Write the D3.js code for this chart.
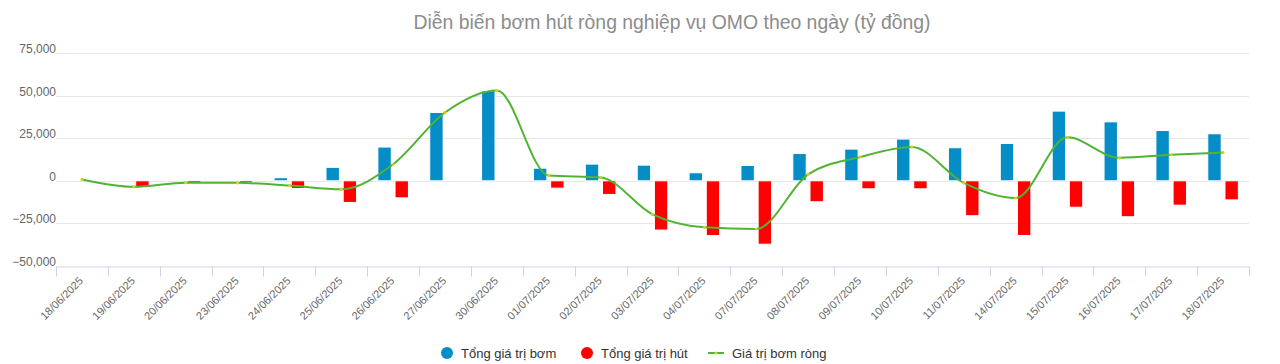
<!DOCTYPE html>
<html>
<head>
<meta charset="utf-8">
<script src="https://cdn.jsdelivr.net/npm/d3@7"></script>
<style>
  html, body { margin: 0; padding: 0; background: #fff; }
  svg { display: block; font-family: "Liberation Sans", Arial, sans-serif; }
</style>
</head>
<body>
<svg id="chart" width="1280" height="364"></svg>
<script>
const categories = ["18/06/2025","19/06/2025","20/06/2025","23/06/2025","24/06/2025","25/06/2025","26/06/2025","27/06/2025","30/06/2025","01/07/2025","02/07/2025","03/07/2025","04/07/2025","07/07/2025","08/07/2025","09/07/2025","10/07/2025","11/07/2025","14/07/2025","15/07/2025","16/07/2025","17/07/2025","18/07/2025"];
const injectValues = [0, 0, 0, 0, 1800, 7900, 19800, 40100, 52800, 7400, 9800, 9200, 4700, 9000, 16000, 18600, 24500, 19400, 21900, 40900, 34600, 29500, 27600];
const absorbValues = [0, -3500, -1000, -1000, -4500, -12700, -10000, 0, 0, -4300, -8000, -28900, -32100, -37200, -12300, -4700, -4700, -20500, -32100, -15500, -21100, -14300, -11200];
const netValues = [800, -3500, -1100, -1200, -2800, -5000, 9700, 40100, 53000, 3100, 2000, -19700, -27300, -28300, 3800, 13900, 19800, -1200, -10100, 25500, 13500, 15300, 16600];
const yTicks = [-50000, -25000, 0, 25000, 50000, 75000];
const seriesNames = ["Tổng giá trị bơm", "Tổng giá trị hút", "Giá trị bơm ròng"];
const colors = ["#058DC7", "#FF0000", "#50B432"];
const titleText = "Diễn biến bơm hút ròng nghiệp vụ OMO theo ngày (tỷ đồng)";

const svg = d3.select("#chart");
const plotLeft = 56, plotRight = 1249, plotTop = 53, plotBottom = 266;

const x = d3.scaleBand().domain(categories).range([plotLeft, plotRight]).paddingInner(0).paddingOuter(0);
const x1 = d3.scaleBand().domain([0, 1]).range([0, x.bandwidth()]).paddingInner(0.22).paddingOuter(0.62);
const y = d3.scaleLinear().domain([-50000, 75000]).range([plotBottom, plotTop]);

// title
svg.append("text").attr("x", 672).attr("y", 29).attr("text-anchor", "middle")
  .attr("font-size", 19.4).attr("fill", "#8c8c8c").text(titleText);

// grid lines
const g = svg.append("g");
g.selectAll("line.grid").data(yTicks.filter(d => d !== -50000)).join("line")
  .attr("x1", plotLeft).attr("x2", plotRight)
  .attr("y1", d => Math.round(y(d)) + 0.5).attr("y2", d => Math.round(y(d)) + 0.5)
  .attr("stroke", "#e6e6e6").attr("stroke-width", 1);

// y labels
g.selectAll("text.ylab").data(yTicks).join("text")
  .attr("x", plotLeft).attr("y", d => y(d))
  .attr("text-anchor", "end").attr("font-size", 12).attr("fill", "#666")
  .text(d => d3.format(",")(d));

// x axis
const xAxis = d3.axisBottom(x).tickSize(0).tickFormat("");
const ax = svg.append("g").attr("transform", `translate(0,${Math.round(plotBottom) + 0.5})`).call(xAxis);
ax.select(".domain").attr("stroke", "#ccd6eb");
const boundaries = categories.map(c => x(c)).concat([plotRight]);
ax.selectAll("line.tk").data(boundaries).join("line")
  .attr("class", "tk")
  .attr("x1", d => Math.round(d) + 0.5).attr("x2", d => Math.round(d) + 0.5)
  .attr("y1", 0).attr("y2", 10).attr("stroke", "#ccd6eb");
ax.selectAll("text.xl").data(categories).join("text")
  .attr("class", "xl")
  .attr("transform", d => `translate(${x(d) + x.bandwidth() / 2 + 2},${15}) rotate(-45)`)
  .attr("text-anchor", "end").attr("font-size", 11).attr("fill", "#666")
  .text(d => d);

// bars
const bars = svg.append("g");
bars.selectAll("rect.inj").data(injectValues.map((v, i) => ({ v, c: categories[i] }))).join("rect")
  .attr("x", d => x(d.c) + x1(0)).attr("width", x1.bandwidth())
  .attr("y", d => y(Math.max(0, d.v))).attr("height", d => Math.abs(y(d.v) - y(0)))
  .attr("fill", colors[0]).attr("stroke", "#fff").attr("stroke-width", 1)
  .style("display", d => d.v === 0 ? "none" : null);
bars.selectAll("rect.abs").data(absorbValues.map((v, i) => ({ v, c: categories[i] }))).join("rect")
  .attr("x", d => x(d.c) + x1(1)).attr("width", x1.bandwidth())
  .attr("y", d => y(Math.max(0, d.v))).attr("height", d => Math.abs(y(d.v) - y(0)))
  .attr("fill", colors[1]).attr("stroke", "#fff").attr("stroke-width", 1)
  .style("display", d => d.v === 0 ? "none" : null);

// line
const pts = netValues.map((v, i) => [x(categories[i]) + x.bandwidth() / 2, y(v)]);
const line = d3.line().curve(d3.curveMonotoneX);
svg.append("path").attr("d", line(pts)).attr("fill", "none")
  .attr("stroke", colors[2]).attr("stroke-width", 2);
svg.append("g").selectAll("circle").data(pts).join("circle")
  .attr("cx", d => d[0]).attr("cy", d => d[1]).attr("r", 1.6).attr("fill", "#c8d42a");

// legend
const leg = svg.append("g").attr("font-size", 13).attr("fill", "#333");
leg.append("circle").attr("cx", 447).attr("cy", 353).attr("r", 6).attr("fill", colors[0]);
leg.append("text").attr("x", 461).attr("y", 357.5).text(seriesNames[0]);
leg.append("circle").attr("cx", 587).attr("cy", 353).attr("r", 6).attr("fill", colors[1]);
leg.append("text").attr("x", 601).attr("y", 357.5).text(seriesNames[1]);
leg.append("line").attr("x1", 708).attr("x2", 724).attr("y1", 353).attr("y2", 353)
  .attr("stroke", colors[2]).attr("stroke-width", 2);
leg.append("circle").attr("cx", 716).attr("cy", 353).attr("r", 1.6).attr("fill", "#c8d42a");
leg.append("text").attr("x", 732).attr("y", 357.5).text(seriesNames[2]);
</script>
</body>
</html>
